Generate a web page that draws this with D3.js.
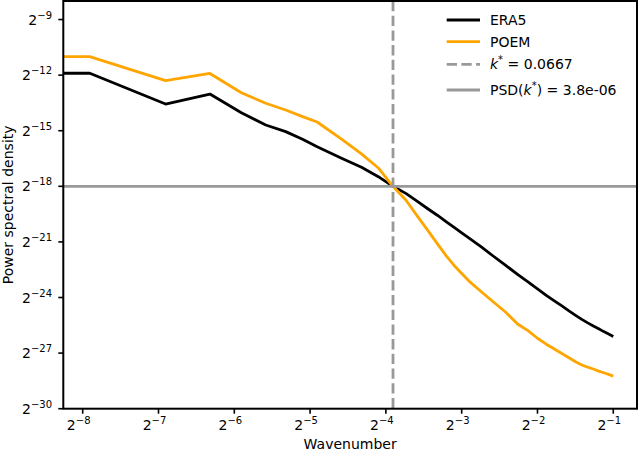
<!DOCTYPE html>
<html>
<head>
<meta charset="utf-8">
<script src="https://cdn.jsdelivr.net/npm/d3@7"></script>
<style>
    body { margin: 0; background: #fff; }
    svg { display: block; font-family: "DejaVu Sans", sans-serif; }
</style>
</head>
<body>
<div id="chart"></div>
<script>
// wavenumbers (0 is the mean, clipped at the left edge on the log axis)
const wavenumbers = [0, 0.004167, 0.008333, 0.0125, 0.016667, 0.020833, 0.025, 0.029167, 0.033333,
    0.041667, 0.05, 0.058333, 0.066667, 0.075, 0.083333, 0.091667, 0.1, 0.108333, 0.116667, 0.125,
    0.133333, 0.15, 0.166667, 0.1875, 0.208333, 0.229167, 0.25, 0.270833, 0.291667, 0.3125,
    0.333333, 0.354167, 0.375, 0.395833, 0.416667, 0.4375, 0.458333, 0.479167, 0.5];

// log2 of power spectral density
const era5Log2 = [-11.90, -11.90, -13.56, -13.02, -14.03, -14.69, -15.05, -15.46, -15.86,
    -16.48, -16.97, -17.48, -18.00, -18.38, -18.81, -19.21, -19.56, -19.90, -20.21, -20.51,
    -20.78, -21.28, -21.76, -22.28, -22.75, -23.16, -23.53, -23.88, -24.18, -24.45,
    -24.72, -24.96, -25.18, -25.37, -25.54, -25.69, -25.84, -25.97, -26.10];
const poemLog2 = [-11.00, -11.00, -12.30, -11.91, -12.95, -13.52, -13.88, -14.24, -14.53,
    -15.45, -16.25, -17.01, -18.00, -18.74, -19.61, -20.38, -21.09, -21.74, -22.27, -22.70,
    -23.10, -23.70, -24.23, -24.81, -25.43, -25.79, -26.20, -26.52, -26.78, -27.02,
    -27.25, -27.47, -27.64, -27.76, -27.86, -27.97, -28.06, -28.15, -28.24];

const kStar = 0.0667;
const psdStar = 3.8e-06;

const xTickExp = [-8, -7, -6, -5, -4, -3, -2, -1];
const yTickExp = [-30, -27, -24, -21, -18, -15, -12, -9];

const seriesNames = ["ERA5", "POEM"];
const seriesColors = ["#000000", "#ffa500"];
const refColor = "#999999";

const width = 640, height = 453;
const plotLeft = 63.3, plotRight = 637, plotTop = 1, plotBottom = 408.7;

const svg = d3.select("#chart").append("svg")
    .attr("width", width)
    .attr("height", height);

const x = d3.scaleLog().base(2)
    .domain([Math.pow(2, -8.256), Math.pow(2, -0.687)])
    .range([plotLeft, plotRight]);

const y = d3.scaleLog().base(2)
    .domain([Math.pow(2, -30), Math.pow(2, -8)])
    .range([plotBottom, plotTop]);

svg.append("defs").append("clipPath").attr("id", "plot")
    .append("rect")
    .attr("x", plotLeft).attr("y", plotTop)
    .attr("width", plotRight - plotLeft).attr("height", plotBottom - plotTop);

const plot = svg.append("g").attr("clip-path", "url(#plot)");

const line = d3.line()
    .x(d => d.k > 0 ? x(d.k) : plotLeft - 2)
    .y(d => y(d.p));

[era5Log2, poemLog2].forEach((vals, i) => {
    const data = wavenumbers.map((k, j) => ({ k: k, p: Math.pow(2, vals[j]) }));
    plot.append("path")
        .datum(data)
        .attr("fill", "none")
        .attr("stroke", seriesColors[i])
        .attr("stroke-width", 2.8)
        .attr("stroke-linejoin", "round")
        .attr("d", line);
});

// k* and PSD(k*) reference lines
plot.append("line")
    .attr("x1", x(kStar)).attr("x2", x(kStar))
    .attr("y1", plotTop).attr("y2", plotBottom)
    .attr("stroke", refColor)
    .attr("stroke-width", 2.8)
    .attr("stroke-dasharray", "10.3,4.4");

plot.append("line")
    .attr("x1", plotLeft).attr("x2", plotRight)
    .attr("y1", y(psdStar)).attr("y2", y(psdStar))
    .attr("stroke", refColor)
    .attr("stroke-width", 2.8);

// frame
svg.append("rect")
    .attr("x", plotLeft).attr("y", plotTop)
    .attr("width", plotRight - plotLeft).attr("height", plotBottom - plotTop)
    .attr("fill", "none")
    .attr("stroke", "#000")
    .attr("stroke-width", 2);

// ticks
const xAxis = svg.append("g");
xTickExp.forEach(e => {
    const px = x(Math.pow(2, e));
    xAxis.append("line")
        .attr("x1", px).attr("x2", px)
        .attr("y1", plotBottom).attr("y2", plotBottom + 5)
        .attr("stroke", "#000").attr("stroke-width", 1.6);
    const t = xAxis.append("text")
        .attr("x", px - 4)
        .attr("y", 430)
        .attr("text-anchor", "middle")
        .style("font-size", "14px");
    t.append("tspan").text("2");
    t.append("tspan").attr("dy", -6).style("font-size", "10px").text("\u2212" + (-e));
});

const yAxis = svg.append("g");
yTickExp.forEach(e => {
    const py = y(Math.pow(2, e));
    yAxis.append("line")
        .attr("x1", plotLeft - 5).attr("x2", plotLeft)
        .attr("y1", py).attr("y2", py)
        .attr("stroke", "#000").attr("stroke-width", 1.6);
    const t = yAxis.append("text")
        .attr("x", 52)
        .attr("y", py + 5)
        .attr("text-anchor", "end")
        .style("font-size", "14px");
    t.append("tspan").text("2");
    t.append("tspan").attr("dy", -6).style("font-size", "10px").text("\u2212" + (-e));
});

// axis labels
svg.append("text")
    .attr("x", (plotLeft + plotRight) / 2)
    .attr("y", 449)
    .attr("text-anchor", "middle")
    .style("font-size", "14px")
    .text("Wavenumber");

svg.append("text")
    .attr("transform", "translate(13," + ((plotTop + plotBottom) / 2) + ") rotate(-90)")
    .attr("text-anchor", "middle")
    .style("font-size", "14px")
    .text("Power spectral density");

// legend
const legendRows = [
    { y: 20, color: seriesColors[0], dash: null, label: [[seriesNames[0]]] },
    { y: 41.7, color: seriesColors[1], dash: null, label: [[seriesNames[1]]] },
    { y: 64.3, color: refColor, dash: "10.3,4.4", label: [["k", "italic"], ["*", "sup"], [" = 0.0667"]] },
    { y: 90, color: refColor, dash: null, label: [["PSD("], ["k", "italic"], ["*", "sup"], [") = 3.8e-06"]] }
];

const legend = svg.append("g");
legendRows.forEach(row => {
    legend.append("line")
        .attr("x1", 446.7).attr("x2", 480)
        .attr("y1", row.y).attr("y2", row.y)
        .attr("stroke", row.color)
        .attr("stroke-width", 2.8)
        .attr("stroke-dasharray", row.dash);
    const t = legend.append("text")
        .attr("x", 490)
        .attr("y", row.y + 5)
        .style("font-size", "14px");
    let raised = false;
    row.label.forEach(part => {
        const s = t.append("tspan").text(part[0]);
        if (part[1] === "italic") s.style("font-style", "italic");
        if (part[1] === "sup") {
            s.attr("dy", -6).style("font-size", "10px");
            raised = true;
        } else if (raised) {
            s.attr("dy", 6);
            raised = false;
        }
    });
});
</script>
</body>
</html>
